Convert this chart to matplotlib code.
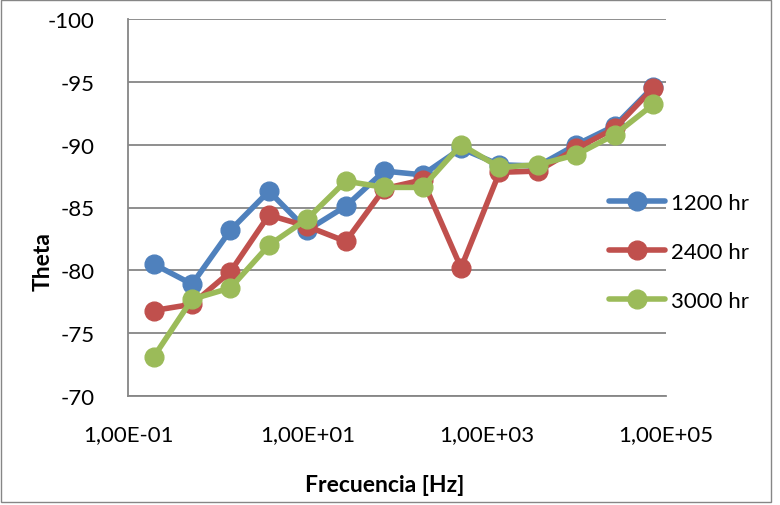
import matplotlib
matplotlib.use("Agg")
import matplotlib.pyplot as plt
from matplotlib.patches import Rectangle

# Frequencies in Hz (log-spaced sweep)
freq_hz = [0.193, 0.518, 1.39, 3.73, 10.0, 26.8, 72.0, 193, 518, 1389,
           3728, 10000, 26827, 71969]

# Phase angle (Theta) for each aging time
theta_1200 = [-80.5, -78.9, -83.2, -86.3, -83.2, -85.1, -87.9, -87.6, -89.7,
              -88.4, -88.3, -90.0, -91.5, -94.6]
theta_2400 = [-76.8, -77.3, -79.9, -84.4, -83.5, -82.3, -86.5, -87.2, -80.2,
              -87.8, -87.9, -89.7, -91.3, -94.5]
theta_3000 = [-73.1, -77.7, -78.6, -82.0, -84.1, -87.1, -86.6, -86.6, -90.0,
              -88.2, -88.4, -89.2, -90.8, -93.2]

series_labels = ["1200 hr", "2400 hr", "3000 hr"]
series_colors = ["#4F81BD", "#C0504D", "#9BBB59"]

x_ticks = [0.1, 10, 1000, 100000]
x_tick_labels = ["1,00E-01", "1,00E+01", "1,00E+03", "1,00E+05"]
y_ticks = [-100, -95, -90, -85, -80, -75, -70]
y_tick_labels = ["-100", "-95", "-90", "-85", "-80", "-75", "-70"]

plt.rcParams["font.family"] = ["Lato", "DejaVu Sans"]

W, H = 780, 506
fig = plt.figure(figsize=(W / 100, H / 100), dpi=100)
fig.patch.set_facecolor("white")

# outer chart border
fig.patches.append(Rectangle((1 / W, 3 / H), 770 / W, 502 / H,
                             transform=fig.transFigure, fill=False,
                             edgecolor="#868686", linewidth=1.0))

ax = fig.add_axes([128 / W, 1 - 397 / H, (666 - 128) / W, (397 - 20) / H])

for ys, lab, col in zip([theta_1200, theta_2400, theta_3000],
                        series_labels, series_colors):
    ax.plot(freq_hz, ys, color=col, linewidth=4.0, marker="o",
            markersize=13.5, label=lab, solid_capstyle="round",
            solid_joinstyle="round")

ax.set_xscale("log")
ax.set_xlim(0.1, 100000)
ax.set_ylim(-70, -100)
ax.set_xticks(x_ticks)
ax.set_xticklabels(x_tick_labels)
ax.minorticks_off()
ax.set_yticks(y_ticks)
ax.set_yticklabels(y_tick_labels)
ax.tick_params(axis="both", length=0, labelsize=16, colors="black")
ax.tick_params(axis="y", pad=24)
ax.tick_params(axis="x", pad=20)

ax.grid(axis="y", color="#868686", linewidth=1.3)
ax.set_axisbelow(True)
for side in ["top", "right"]:
    ax.spines[side].set_visible(False)
for side in ["left", "bottom"]:
    ax.spines[side].set_color("#868686")
    ax.spines[side].set_linewidth(1.3)

fig.text(385 / W, 1 - 486 / H, "Frecuencia [Hz]", ha="center", va="center",
         fontsize=16.5, fontweight="bold")
fig.text(43 / W, 1 - 262 / H, "Theta", ha="center", va="center",
         rotation=90, fontsize=16.5, fontweight="bold")

leg = fig.legend(loc="center left", bbox_to_anchor=(609 / W, 1 - 253 / H),
                 frameon=False, fontsize=16, handlelength=2.5,
                 handletextpad=0.3, labelspacing=1.3, borderpad=0,
                 borderaxespad=0)

fig.savefig("out.png", dpi=100, facecolor="white")
